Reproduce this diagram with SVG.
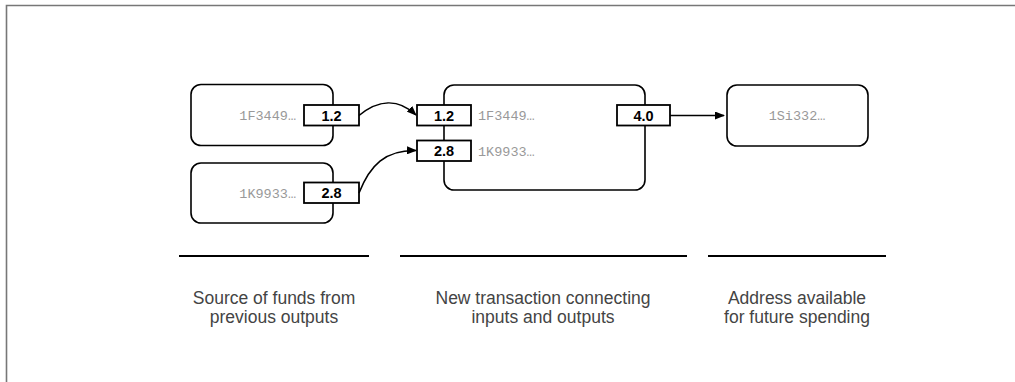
<svg xmlns="http://www.w3.org/2000/svg" width="1015" height="382" viewBox="0 0 1015 382">
<defs>
<marker id="ah" markerWidth="10" markerHeight="8" refX="9" refY="4" orient="auto" markerUnits="userSpaceOnUse">
<path d="M0,0 L10,4 L0,8 z" fill="#000"/>
</marker>
<style>
.node{fill:#fff;stroke:#000;stroke-width:1.6}
.lbl{fill:#fff;stroke:#000;stroke-width:1.8}
.val{font-family:"Liberation Sans",Arial,sans-serif;font-weight:bold;font-size:14.5px;fill:#000;text-anchor:middle}
.addr{font-family:"Liberation Mono","Courier New",monospace;font-size:13.5px;fill:#999}
.cap{font-family:"Liberation Sans",Arial,sans-serif;font-size:17.5px;fill:#444;text-anchor:middle}
.conn{fill:none;stroke:#000;stroke-width:1.6}
.rule{stroke:#000;stroke-width:1.8}
</style>
</defs>
<rect width="1015" height="382" fill="#fff"/>
<path d="M6.5,382 V5.5 H1015" fill="none" stroke="#777" stroke-width="1.6"/>

<g id="src1">
<rect class="node" x="191" y="84.5" width="142" height="61" rx="10"/>
<text class="addr" x="296" y="120" text-anchor="end">1F3449…</text>
<rect class="lbl" x="304" y="105" width="55" height="20.5"/>
<text class="val" x="331.5" y="120.5">1.2</text>
</g>
<g id="src2">
<rect class="node" x="191" y="163" width="142" height="60" rx="10"/>
<text class="addr" x="296" y="197.5" text-anchor="end">1K9933…</text>
<rect class="lbl" x="304" y="182.5" width="55" height="20.5"/>
<text class="val" x="331.5" y="198">2.8</text>
</g>
<g id="tx">
<rect class="node" x="444" y="85" width="201" height="105" rx="10"/>
<rect class="lbl" x="417" y="105" width="54" height="20.5"/>
<text class="val" x="444" y="120.5">1.2</text>
<text class="addr" x="478" y="120">1F3449…</text>
<rect class="lbl" x="417" y="140.5" width="54" height="20.5"/>
<text class="val" x="444" y="156">2.8</text>
<text class="addr" x="478" y="155.5">1K9933…</text>
<rect class="lbl" x="617" y="105" width="53" height="20.5"/>
<text class="val" x="643.5" y="120.5">4.0</text>
</g>
<g id="dest">
<rect class="node" x="727" y="85" width="141" height="61" rx="10"/>
<text class="addr" x="797" y="120" text-anchor="middle">1Si332…</text>
</g>
<g id="connectors">
<path class="conn" d="M359,115.5 C378,100 398,98 416,115" marker-end="url(#ah)"/>
<path class="conn" d="M359,193 C370,165 385,150 416,150.5" marker-end="url(#ah)"/>
<path class="conn" d="M670,115.5 H724" marker-end="url(#ah)"/>
</g>
<g id="captions">
<line class="rule" x1="179" y1="256" x2="369" y2="256"/>
<line class="rule" x1="400" y1="256" x2="687" y2="256"/>
<line class="rule" x1="708" y1="256" x2="886" y2="256"/>
<text class="cap" x="274" y="304">Source of funds from</text>
<text class="cap" x="274" y="323">previous outputs</text>
<text class="cap" x="543" y="304">New transaction connecting</text>
<text class="cap" x="543" y="323">inputs and outputs</text>
<text class="cap" x="797" y="304">Address available</text>
<text class="cap" x="797" y="323">for future spending</text>
</g>
</svg>
